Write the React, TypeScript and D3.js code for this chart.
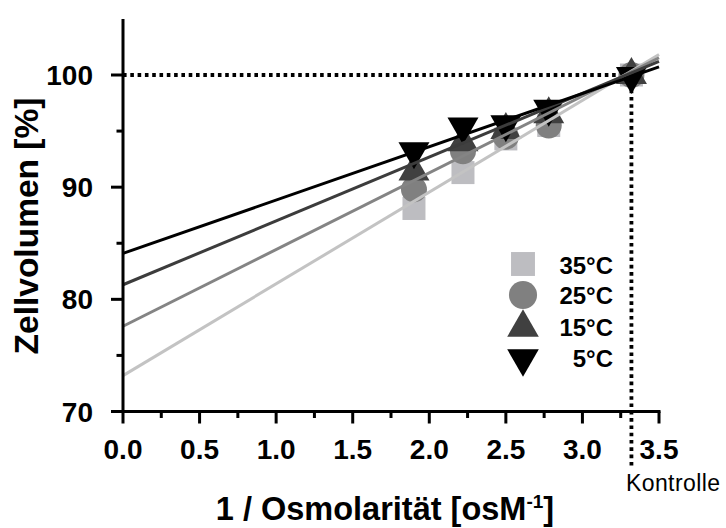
import React from "react";
import * as d3 from "d3";

const xValues = [1.9, 2.22, 2.5, 2.78, 3.32];
const seriesNames = ["35°C", "25°C", "15°C", "5°C"];
const values35 = [88.1, 91.3, 94.3, 95.5, 100.0];
const values25 = [89.8, 93.2, 94.5, 95.5, 100.0];
const values15 = [91.8, 94.4, 95.5, 96.9, 100.4];
const values5 = [92.8, 95.0, 95.2, 96.6, 99.5];
const intercepts = [73.2, 77.6, 81.3, 84.1];
const slopes = [8.18, 6.84, 5.69, 4.75];
const xTicks = [0, 0.5, 1.0, 1.5, 2.0, 2.5, 3.0, 3.5];
const xMinorTicks = [0.25, 0.75, 1.25, 1.75, 2.25, 2.75, 3.25];
const yTicks = [70, 80, 90, 100];
const yMinorTicks = [75, 85, 95];
const controlX = 3.32;
const controlY = 100;

const colors = ["#bdbdc1", "#808080", "#404040", "#000000"];
const lineColors = ["#c3c3c3", "#848484", "#3c3c3c", "#000000"];
const shapes = ["square", "circle", "up", "down"];

const W = 726;
const H = 528;
const FONT = "'Liberation Sans', Arial, sans-serif";

function Marker({ shape, cx, cy, color, size = 1 }: { shape: string; cx: number; cy: number; color: string; size?: number }) {
  if (shape === "square") {
    const s = 23 * size;
    return <rect x={cx - s / 2} y={cy - s / 2} width={s} height={s} fill={color} />;
  }
  if (shape === "circle") {
    return <circle cx={cx} cy={cy} r={13 * size} fill={color} />;
  }
  const w = 31 * size;
  const h = 27 * size;
  if (shape === "up") {
    return <path d={`M${cx},${cy - h / 2}L${cx + w / 2},${cy + h / 2}L${cx - w / 2},${cy + h / 2}Z`} fill={color} />;
  }
  return <path d={`M${cx - w / 2},${cy - h / 2}L${cx + w / 2},${cy - h / 2}L${cx},${cy + h / 2}Z`} fill={color} />;
}

export default function App() {
  const x = d3.scaleLinear().domain([0, 3.5]).range([123, 659]);
  const y = d3.scaleLinear().domain([70, 100]).range([411.5, 75]);
  const yTop = 105;
  const allValues = [values35, values25, values15, values5];
  const line = d3
    .line<number>()
    .x((d) => x(d[0]))
    .y((d) => y(d[1]));

  return (
    <svg width={W} height={H} style={{ position: "absolute", left: 0, top: 0, background: "#fff" }} fontFamily={FONT}>
      {/* dotted control lines */}
      <line x1={x(0)} x2={x(controlX)} y1={y(controlY)} y2={y(controlY)} stroke="#000" strokeWidth={3.8} strokeDasharray="3.6 3.7" />
      <line x1={x(controlX)} x2={x(controlX)} y1={y(controlY)} y2={466} stroke="#000" strokeWidth={3.8} strokeDasharray="3.6 3.7" />

      {/* markers */}
      {allValues.map((vals, si) => (
        <g key={si}>
          {vals.map((v, i) => (
            <Marker key={i} shape={shapes[si]} cx={x(xValues[i])} cy={y(v)} color={colors[si]} />
          ))}
        </g>
      ))}

      {/* regression lines */}
      {intercepts.map((b, si) => (
        <path
          key={si}
          d={line([
            [0, b],
            [3.5, b + slopes[si] * 3.5],
          ] as any) as string}
          fill="none"
          stroke={lineColors[si]}
          strokeWidth={3}
        />
      ))}

      {/* axes */}
      <line x1={x(0)} x2={x(0)} y1={y(70)} y2={y(yTop)} stroke="#000" strokeWidth={3} />
      <line x1={x(0) - 1.5} x2={x(3.5) + 1.5} y1={y(70)} y2={y(70)} stroke="#000" strokeWidth={3} />
      {yTicks.map((t) => (
        <g key={"yt" + t}>
          <line x1={x(0) - 12} x2={x(0)} y1={y(t)} y2={y(t)} stroke="#000" strokeWidth={3} />
          <text x={93} y={y(t) + 10} textAnchor="end" fontSize={28} fontWeight="bold">
            {t}
          </text>
        </g>
      ))}
      {yMinorTicks.map((t) => (
        <line key={"ym" + t} x1={x(0) - 6.5} x2={x(0)} y1={y(t)} y2={y(t)} stroke="#000" strokeWidth={3} />
      ))}
      {xTicks.map((t) => (
        <g key={"xt" + t}>
          <line x1={x(t)} x2={x(t)} y1={y(70)} y2={y(70) + 12} stroke="#000" strokeWidth={3} />
          <text x={x(t)} y={459} textAnchor="middle" fontSize={28} fontWeight="bold">
            {t.toFixed(1)}
          </text>
        </g>
      ))}
      {xMinorTicks.map((t) => (
        <line key={"xm" + t} x1={x(t)} x2={x(t)} y1={y(70)} y2={y(70) + 6.5} stroke="#000" strokeWidth={3} />
      ))}

      {/* axis titles */}
      <text x={385} y={520} textAnchor="middle" fontSize={32.5} fontWeight="bold">
        1 / Osmolarität [osM
        <tspan dy={-12} fontSize={19}>-1</tspan>
        <tspan dy={12}>]</tspan>
      </text>
      <text transform="translate(38,226) rotate(-90)" textAnchor="middle" fontSize={33.5} fontWeight="bold">
        Zellvolumen [%]
      </text>
      <text x={626} y={491} fontSize={23} letterSpacing={0.4}>
        Kontrolle
      </text>

      {/* legend */}
      {seriesNames.map((name, si) => {
        const rowsY = [264, 295, 323, 363];
        const baseY = [274, 304, 336, 367];
        return (
          <g key={"lg" + si}>
            <Marker shape={shapes[si]} cx={523} cy={rowsY[si]} color={colors[si]} size={si === 1 ? 1.08 : si === 0 ? 1.04 : 1.02} />
            <text x={613} y={baseY[si]} textAnchor="end" fontSize={24} fontWeight="bold">
              {name}
            </text>
          </g>
        );
      })}
    </svg>
  );
}
